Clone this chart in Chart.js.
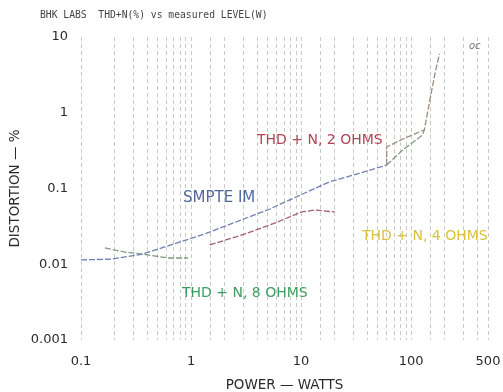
<!DOCTYPE html>
<html>
<head>
<meta charset="utf-8">
<script src="https://cdn.jsdelivr.net/npm/chart.js@4.4.0/dist/chart.umd.min.js"></script>
<style>
  body { margin: 0; background: #fff; }
  canvas { display: block; }
</style>
</head>
<body>
<canvas id="thd" width="503" height="392"></canvas>
<script>
// power in watts, distortion in %
var smpteW = [0.1, 0.19, 0.36, 0.47, 1.33, 5.2, 7.1, 18, 32, 60];
var smpteD = [0.0114, 0.0117, 0.0136, 0.0154, 0.0251, 0.0536, 0.066, 0.122, 0.155, 0.204];

var ohm2W = [1.48, 3.1, 6.1, 10.1, 13.3, 20.2];
var ohm2D = [0.018, 0.0251, 0.0361, 0.049, 0.052, 0.049];

var ohm4W = [60, 60, 84, 119, 132, 147, 166, 181];
var ohm4D = [0.204, 0.353, 0.45, 0.557, 0.594, 1.39, 3.45, 5.97];

// low power branch, a gap, then the top end
var ohm8W = [0.165, 0.25, 0.36, 0.62, 0.94, 5, 60, 84, 127, 132];
var ohm8D = [0.0164, 0.0145, 0.0136, 0.0121, 0.0121, null, 0.204, 0.322, 0.508, 0.594];

var xLabels = [0.1, 1, 10, 100, 500];
var yLabels = [0.001, 0.01, 0.1, 1, 10];

function pts(w, d) {
    return w.map((x, i) => ({ x: x, y: d[i] }));
}

function pick(list) {
    return function(val) {
        var hit = list.find(v => Math.abs(Math.log10(v) - Math.log10(val)) < 1e-6);
        return hit === undefined ? '' : String(hit);
    };
}

function line(label, w, d, color) {
    return {
        label: label,
        data: pts(w, d),
        showLine: true,
        borderColor: color,
        borderWidth: 1.3,
        borderDash: [6, 2],
        pointRadius: 0,
        fill: false,
        spanGaps: false
    };
}

// header, curve labels and the pencil mark
var notes = {
    id: 'notes',
    afterDraw(chart) {
        var ctx = chart.ctx;
        ctx.save();
        ctx.textBaseline = 'middle';
        ctx.textAlign = 'left';
        ctx.fillStyle = '#444';
        ctx.font = '9.7px "DejaVu Sans Mono"';
        ctx.fillText('BHK LABS  THD+N(%) vs measured LEVEL(W)', 40, 15);

        ctx.font = '14px "DejaVu Sans"';
        ctx.fillStyle = '#b24456';
        ctx.fillText('THD + N, 2 OHMS', 257, 140);
        ctx.fillStyle = '#d9c23e';
        ctx.fillText('THD + N, 4 OHMS', 362, 236);
        ctx.fillStyle = '#3d9d5f';
        ctx.fillText('THD + N, 8 OHMS', 182, 293);
        ctx.font = '15px "DejaVu Sans"';
        ctx.fillStyle = '#52679c';
        ctx.fillText('SMPTE IM', 183, 198);

        ctx.font = 'italic 10px "DejaVu Sans"';
        ctx.fillStyle = '#777';
        ctx.fillText('oc', 469, 46);
        ctx.restore();
    }
};

new Chart(document.getElementById('thd'), {
    type: 'scatter',
    data: {
        datasets: [
            line('SMPTE IM', smpteW, smpteD, '#6f80b4'),
            line('THD + N, 2 OHMS', ohm2W, ohm2D, '#a4606e'),
            line('THD + N, 4 OHMS', ohm4W, ohm4D, '#a08a7a'),
            line('THD + N, 8 OHMS', ohm8W, ohm8D, '#7f9a80')
        ]
    },
    options: {
        responsive: false,
        animation: false,
        devicePixelRatio: 1,
        layout: { padding: { left: 0, right: 15, top: 37, bottom: 0 } },
        plugins: {
            legend: { display: false },
            tooltip: { enabled: false }
        },
        scales: {
            x: {
                type: 'logarithmic',
                min: 0.1,
                max: 500,
                afterFit: s => {
                    s.height = 52;
                    s.paddingLeft = 0;
                    s.paddingRight = 0;
                },
                grid: { color: 'rgba(115,112,100,0.38)', drawTicks: false },
                border: { display: false, dash: [4, 3] },
                ticks: {
                    autoSkip: false,
                    maxRotation: 0,
                    padding: 14,
                    color: '#2a2a2a',
                    font: { family: 'DejaVu Sans', size: 13 },
                    callback: pick(xLabels)
                },
                title: {
                    display: true,
                    text: 'POWER \u2014 WATTS',
                    color: '#2a2a2a',
                    font: { family: 'DejaVu Sans', size: 13.5, lineHeight: 1 },
                    padding: { top: 0, bottom: 0 }
                }
            },
            y: {
                type: 'logarithmic',
                min: 0.001,
                max: 10,
                afterFit: s => {
                    s.width = 81;
                    s.paddingTop = 0;
                    s.paddingBottom = 0;
                },
                grid: { display: false, drawTicks: false },
                border: { display: false },
                ticks: {
                    autoSkip: false,
                    padding: 13,
                    color: '#2a2a2a',
                    font: { family: 'DejaVu Sans', size: 13 },
                    callback: pick(yLabels)
                },
                title: {
                    display: true,
                    text: 'DISTORTION \u2014 %',
                    color: '#2a2a2a',
                    font: { family: 'DejaVu Sans', size: 13.5 },
                    padding: { top: 7, bottom: 0 }
                }
            }
        }
    },
    plugins: [notes]
});
</script>
</body>
</html>
